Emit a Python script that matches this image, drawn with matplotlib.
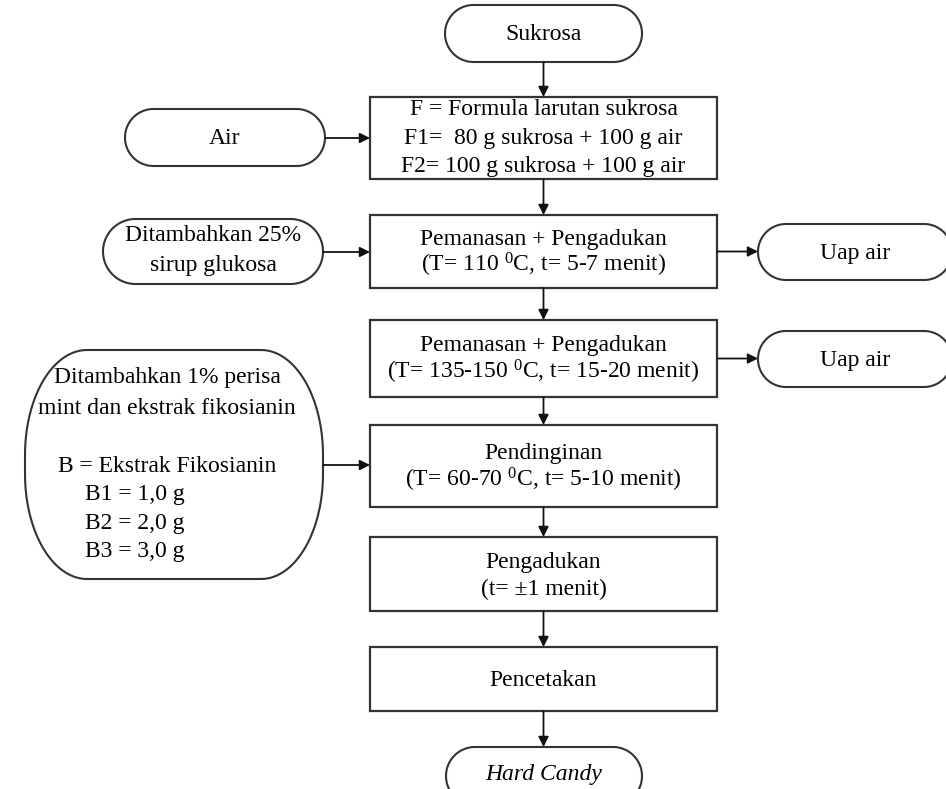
#!/usr/bin/env python3
# Flowchart: pembuatan hard candy dengan ekstrak fikosianin
import numpy as np
import matplotlib.pyplot as plt
from matplotlib.patches import PathPatch, Rectangle
from matplotlib.path import Path

plt.rcParams['font.family'] = ['Liberation Serif', 'DejaVu Serif']
plt.rcParams['mathtext.fontset'] = 'custom'
plt.rcParams['mathtext.rm'] = 'Liberation Serif'
plt.rcParams['mathtext.it'] = 'Liberation Serif:italic'

# ── labels ───────────────────────────────────────────────
main_labels = [
    ["F = Formula larutan sukrosa", "F1=  80 g sukrosa + 100 g air",
     "F2= 100 g sukrosa + 100 g air"],
    ["Pemanasan + Pengadukan", "(T= 110 $^{0}$C, t= 5-7 menit)"],
    ["Pemanasan + Pengadukan", "(T= 135-150 $^{0}$C, t= 15-20 menit)"],
    ["Pendinginan", "(T= 60-70 $^{0}$C, t= 5-10 menit)"],
    ["Pengadukan", "(t= \u00b11 menit)"],
    ["Pencetakan"],
]
start_label = "Sukrosa"
end_label = "Hard Candy"
air_label = "Air"
glukosa_lines = ["Ditambahkan 25%", "sirup glukosa"]
perisa_lines = ["Ditambahkan 1% perisa", "mint dan ekstrak fikosianin"]
ekstrak_title = "B = Ekstrak Fikosianin"
ekstrak_levels = ["B1 = 1,0 g", "B2 = 2,0 g", "B3 = 3,0 g"]
uap_label = "Uap air"

# ── layout (pixels, y down) ──────────────────────────────
W, H = 946, 789
main_x0, main_x1 = 370, 717
main_y = [(97, 179), (215, 288), (320, 397), (425, 507), (537, 611), (647, 711)]
main_text_y = [[108, 137, 165], [238, 265], [344, 372], [452, 480],
               [561, 588], [679]]
cx = (main_x0 + main_x1) / 2
start_box = (445, 5, 642, 62)
end_box = (446, 747, 642, 805)
air_box = (125, 109, 325, 166)
glu_box = (103, 219, 323, 284)
per_box = (25, 350, 323, 579)
uap_boxes = [(758, 224, 952, 280), (758, 331, 952, 387)]

FS = 17
EC = '#333333'
fig = plt.figure(figsize=(W / 100, H / 100), dpi=100)
ax = fig.add_axes([0, 0, 1, 1])
ax.set_xlim(0, W)
ax.set_ylim(H, 0)
ax.axis('off')


def terminal(box, rx=None, ry=None):
    """Rounded (terminator) shape, elliptical corners."""
    x0, y0, x1, y1 = box
    ry = (y1 - y0) / 2 if ry is None else ry
    rx = ry if rx is None else rx
    corners = [((x1 - rx, y0 + ry), 3 * np.pi / 2, 2 * np.pi),
               ((x1 - rx, y1 - ry), 0, np.pi / 2),
               ((x0 + rx, y1 - ry), np.pi / 2, np.pi),
               ((x0 + rx, y0 + ry), np.pi, 3 * np.pi / 2)]
    pts = []
    for (ccx, ccy), a0, a1 in corners:
        a = np.linspace(a0, a1, 30)
        pts += list(zip(ccx + rx * np.cos(a), ccy + ry * np.sin(a)))
    pts.append(pts[0])
    ax.add_patch(PathPatch(Path(pts), fc='white', ec=EC, lw=1.5))


def rect(x0, y0, x1, y1):
    ax.add_patch(Rectangle((x0, y0), x1 - x0, y1 - y0, fc='white',
                           ec=EC, lw=1.6))


def arrow(x0, y0, x1, y1):
    ax.annotate("", xy=(x1, y1), xytext=(x0, y0),
                arrowprops=dict(arrowstyle='-|>', color='#111111', lw=1.3,
                                mutation_scale=15, shrinkA=0, shrinkB=0))


def label(x, y, s, **kw):
    # y is the visual middle of the line; shift to the baseline
    ax.text(x, y + 7, s, ha=kw.pop('ha', 'center'), va='baseline',
            fontsize=FS, **kw)


# main column
terminal(start_box)
label(cx, 33, start_label)
arrow(cx, start_box[3], cx, main_y[0][0])
for i, (lines, (y0, y1), ys) in enumerate(zip(main_labels, main_y, main_text_y)):
    rect(main_x0, y0, main_x1, y1)
    for line, ty in zip(lines, ys):
        label(cx, ty, line)
    nxt = main_y[i + 1][0] if i + 1 < len(main_y) else end_box[1]
    arrow(cx, y1, cx, nxt)
terminal(end_box)
label(cx, 773, end_label, style='italic')

# side inputs
terminal(air_box)
label((air_box[0] + air_box[2]) / 2, 137, air_label)
arrow(air_box[2], 138, main_x0, 138)

terminal(glu_box)
for line, ty in zip(glukosa_lines, [234, 264]):
    label(213, ty, line)
arrow(glu_box[2], 252, main_x0, 252)

terminal(per_box, rx=62, ry=105)
for line, ty in zip(perisa_lines, [376, 407]):
    label(167, ty, line)
label(167, 465, ekstrak_title)
for k, line in enumerate(ekstrak_levels):
    label(85, 493 + 28.5 * k, line, ha='left')
arrow(per_box[2], 465, main_x0, 465)

# outputs
for ub, (y0, y1) in zip(uap_boxes, main_y[1:3]):
    terminal(ub)
    my = (y0 + y1) / 2
    label(855, my, uap_label)
    arrow(main_x1, my, ub[0], my)

fig.savefig("out.png", dpi=100)
